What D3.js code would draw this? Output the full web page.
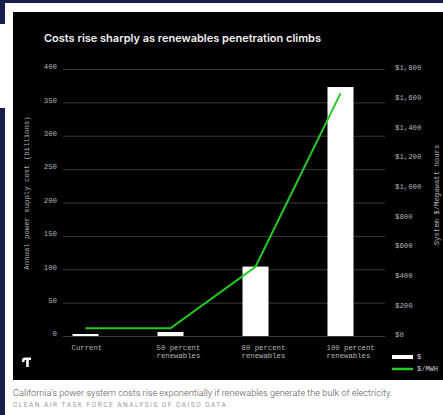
<!DOCTYPE html>
<html><head><meta charset="utf-8">
<script src="https://cdn.jsdelivr.net/npm/d3@7"></script>
<style>html,body{margin:0;padding:0;background:#1c1b4d;}svg{display:block;}</style>
</head><body>
<script>
const categories = ["Current", "50 percent renewables", "80 percent renewables", "100 percent renewables"];
const costBillions = [3, 6, 104, 373];
const pricePerMWh = [52, 52, 467, 1636];
const leftTicks = [0, 50, 100, 150, 200, 250, 300, 350, 400];
const rightTicks = [0, 200, 400, 600, 800, 1000, 1200, 1400, 1600, 1800];
const legendLabels = ["$", "$/MWH"];

const W = 443, H = 415;
const svg = d3.select("body").append("svg").attr("width", W).attr("height", H);

// page background pieces
svg.append("rect").attr("x",0).attr("y",0).attr("width",W).attr("height",H).attr("fill","#1c1b4d");
svg.append("rect").attr("x",5).attr("y",3).attr("width",W-5).attr("height",H-3).attr("fill","#ffffff");
svg.append("rect").attr("x",0).attr("y",24).attr("width",5).attr("height",84).attr("fill","#ffffff");
svg.append("rect").attr("x",13).attr("y",12).attr("width",W-13).attr("height",368).attr("fill","#000000");

const mono = "'Liberation Mono', 'DejaVu Sans Mono', monospace";

svg.append("text").attr("x",44).attr("y",42)
  .attr("font-family","Inter, 'Noto Sans', sans-serif").attr("font-weight",600)
  .attr("font-size",11).attr("fill","#f2f2f2")
  .attr("textLength",277).attr("lengthAdjust","spacingAndGlyphs")
  .text("Costs rise sharply as renewables penetration climbs");

const x = d3.scalePoint().domain(categories).range([43, 383]).padding(0.5);
const yL = d3.scaleLinear().domain([0, 400]).range([336, 69]);
const yR = d3.scaleLinear().domain([0, 1800]).range([336, 69]);
const barW = 26;

// grid
const grid = svg.append("g");
grid.selectAll("line").data(leftTicks).join("line")
  .attr("x1",63).attr("x2",385)
  .attr("y1",d=>yL(d)+0.5).attr("y2",d=>yL(d)+0.5)
  .attr("stroke","#3a3a3a").attr("stroke-width",1);

// left axis labels
svg.append("g").selectAll("text").data(leftTicks).join("text")
  .attr("x",57).attr("y",d=>yL(d)-2).attr("dy","0.32em")
  .attr("text-anchor","end").attr("font-family",mono).attr("font-size",7.3)
  .attr("fill","#b5b5b5").text(d=>d);

// right axis labels
const fmt = d3.format("$,");
svg.append("g").selectAll("text").data(rightTicks).join("text")
  .attr("x",395).attr("y",d=>yR(d)-1).attr("dy","0.32em")
  .attr("text-anchor","start").attr("font-family",mono).attr("font-size",7.3)
  .attr("fill","#b5b5b5").text(d=>fmt(d));

// axis titles
svg.append("text").attr("transform","translate(29,193) rotate(-90)")
  .attr("text-anchor","middle").attr("font-family",mono).attr("font-size",7.3)
  .attr("fill","#b5b5b5").text("Annual power supply cost (billions)");
svg.append("text").attr("transform","translate(439,195) rotate(-90)")
  .attr("text-anchor","middle").attr("font-family",mono).attr("font-size",7.3)
  .attr("fill","#b5b5b5").text("System $/Megawatt hours");

// bars
svg.append("g").selectAll("rect").data(categories).join("rect")
  .attr("x",d=>x(d)-barW/2).attr("width",barW)
  .attr("y",(d,i)=>yL(costBillions[i]))
  .attr("height",(d,i)=>yL(0)-yL(costBillions[i]))
  .attr("fill","#ffffff");

// line
const line = d3.line().x((d,i)=>x(categories[i])).y(d=>yR(d));
svg.append("path").datum(pricePerMWh).attr("d",line)
  .attr("fill","none").attr("stroke","#22cc22").attr("stroke-width",2);

// category labels
const catG = svg.append("g");
categories.forEach(c=>{
  const m = c.match(/^(.*?)( renewables)?$/);
  const lines = m[2] ? [m[1], "renewables"] : [m[1]];
  const t = catG.append("text").attr("font-family",mono).attr("font-size",7.3)
    .attr("fill","#b5b5b5");
  lines.forEach((l,k)=>{
    t.append("tspan").attr("x",x(c)-barW/2-1).attr("y",350+k*7.5).text(l);
  });
});

// legend
const legColors = ["#ffffff","#22cc22"];
const legW = [4, 2.5];
legendLabels.forEach((l,i)=>{
  const yy = 357 + i*12;
  svg.append("line").attr("x1",392).attr("x2",413).attr("y1",yy).attr("y2",yy)
    .attr("stroke",legColors[i]).attr("stroke-width",legW[i]);
  svg.append("text").attr("x",417).attr("y",yy).attr("dy","0.32em")
    .attr("font-family",mono).attr("font-size",7).attr("fill","#cfcfcf").text(l);
});

// logo
svg.append("path")
  .attr("d","M22,360.5 C22,358.5 23,357.5 25,357.5 L31,357.5 L31,360 L28.8,360 L28.8,367 L26.2,367 L26.2,360 L25,360 C24.6,360 24.5,360.4 24.5,361 L24.5,362 L22,362 Z")
  .attr("fill","#ffffff");

// caption
svg.append("text").attr("x",13).attr("y",396)
  .attr("font-family","Roboto, 'Noto Sans', sans-serif").attr("font-weight",300)
  .attr("font-size",9).attr("fill","#555555")
  .attr("textLength",379).attr("lengthAdjust","spacingAndGlyphs")
  .text("California's power system costs rise exponentially if renewables generate the bulk of electricity.");
svg.append("text").attr("x",13).attr("y",407)
  .attr("font-family","Roboto, 'Noto Sans', sans-serif").attr("font-weight",400)
  .attr("font-size",6.6).attr("fill","#9a9a9a")
  .attr("textLength",216).attr("lengthAdjust","spacing")
  .text("CLEAN AIR TASK FORCE ANALYSIS OF CAISO DATA.");
</script>
</body></html>
